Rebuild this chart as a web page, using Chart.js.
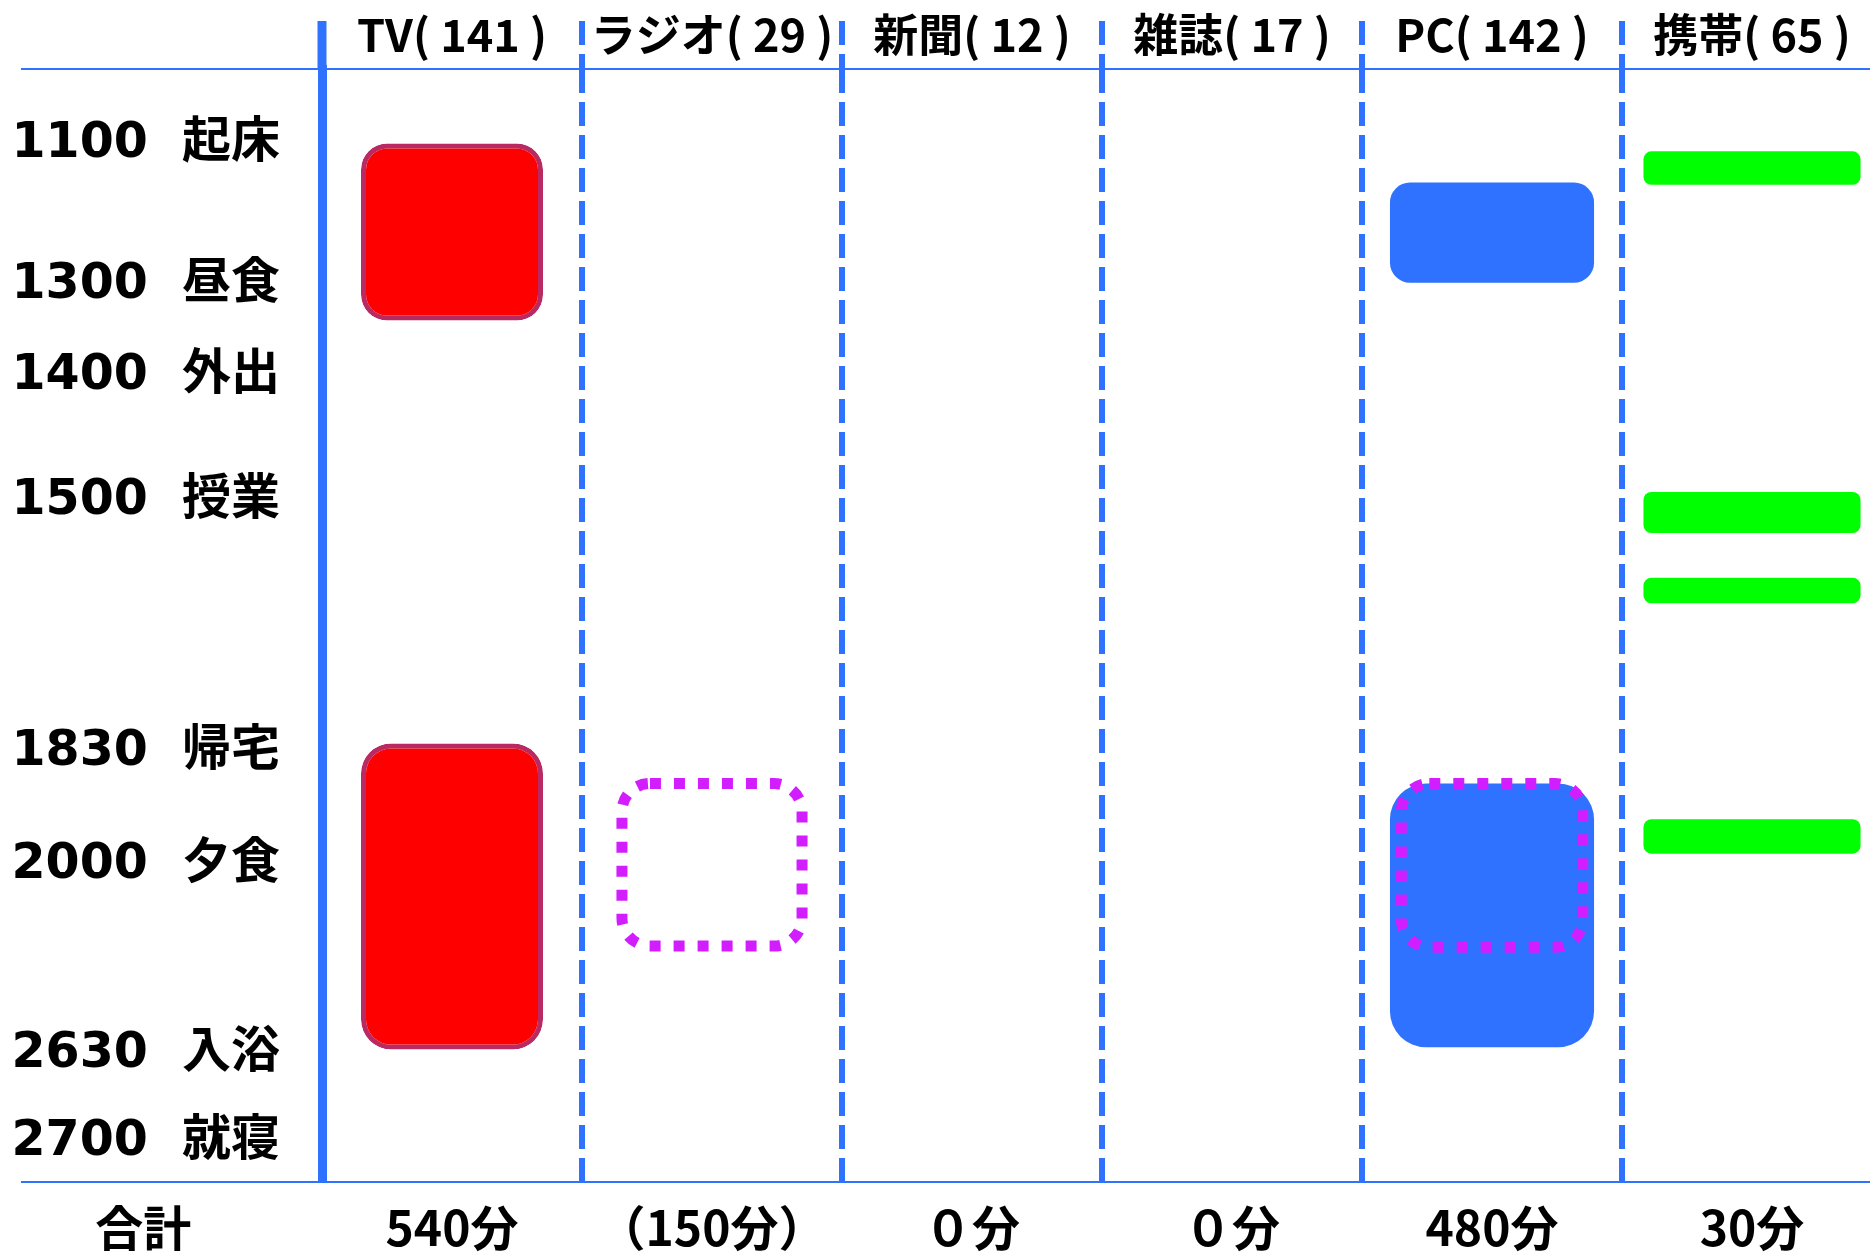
<!DOCTYPE html>
<html>
<head>
<meta charset="utf-8">
<script src="https://cdn.jsdelivr.net/npm/chart.js@4"></script>
<style>
  html, body { margin: 0; padding: 0; background: #fff; overflow: hidden; }
  #wrap { width: 1882px; height: 1252px; }
</style>
</head>
<body>
<div id="wrap"><canvas id="chart" width="1882" height="1252"></canvas></div>
<script>
// columns (media) and their totals
const columns = ['TV( 141 )', 'ラジオ( 29 )', '新聞( 12 )', '雑誌( 17 )', 'PC( 142 )', '携帯( 65 )'];
const totals = ['540分', '（150分）', '０分', '０分', '480分', '30分'];

// rows of the day, position on a 0-100 scale (top line = 0, bottom line = 100)
const rowTimes = ['1100', '1300', '1400', '1500', '1830', '2000', '2630', '2700'];
const rowEvents = ['起床', '昼食', '外出', '授業', '帰宅', '夕食', '入浴', '就寝'];
const rowPositions = [6.8, 19.4, 27.6, 38.8, 61.4, 71.5, 88.5, 96.4];

// usage spans [start, end] on the same scale
const tvSpans = [[6.7, 22.6], [60.6, 88.1]];
const radioSpans = [[63.7, 79.3]];
const pcSpans = [[10.2, 19.2], [64.2, 87.9]];
const pcDottedSpans = [[63.7, 79.4]];
const mobileSpans = [[7.4, 10.4], [38.0, 41.7], [45.7, 48.0], [67.4, 70.5]];

const BLUE = '#2F72FF';
const MAGENTA = '#D21EFF';

function spanDataset(col, span, style) {
    const data = columns.map(() => null);
    data[col] = span;
    return Object.assign({
        data: data,
        grouped: false,
        borderSkipped: false,
        categoryPercentage: 1
    }, style);
}

const datasets = [];
tvSpans.forEach((s, i) => datasets.push(spanDataset(0, s, {
    backgroundColor: '#FF0000', borderColor: '#B92A62', borderWidth: 5,
    borderRadius: i === 0 ? 26 : 30, barPercentage: 0.70
})));
pcSpans.forEach((s, i) => datasets.push(spanDataset(4, s, {
    backgroundColor: BLUE, borderWidth: 0,
    borderRadius: i === 0 ? 20 : 36, barPercentage: 0.785
})));
mobileSpans.forEach(s => datasets.push(spanDataset(5, s, {
    backgroundColor: '#00FF00', borderWidth: 0, borderRadius: 8, barPercentage: 0.835
})));
radioSpans.forEach(s => datasets.push(spanDataset(1, s, {
    backgroundColor: 'transparent', borderColor: MAGENTA, borderWidth: 0,
    barPercentage: 0.735, dotted: true
})));
pcDottedSpans.forEach(s => datasets.push(spanDataset(4, s, {
    backgroundColor: 'transparent', borderColor: MAGENTA, borderWidth: 0,
    barPercentage: 0.74, dotted: true
})));

// dotted outline boxes (bar borders can't be dashed natively)
const dottedBoxes = {
    id: 'dottedBoxes',
    afterDatasetsDraw(chart) {
        const ctx = chart.ctx;
        chart.data.datasets.forEach((ds, di) => {
            if (!ds.dotted) return;
            chart.getDatasetMeta(di).data.forEach((bar, idx) => {
                if (ds.data[idx] == null) return;
                const p = bar.getProps(['x', 'y', 'base', 'width']);
                const lw = 11;
                const left = p.x - p.width / 2 + lw / 2;
                const top = Math.min(p.y, p.base) + lw / 2;
                const w = p.width - lw;
                const h = Math.abs(p.base - p.y) - lw;
                ctx.save();
                ctx.strokeStyle = ds.borderColor;
                ctx.lineWidth = lw;
                ctx.setLineDash([11, 13]);
                ctx.beginPath();
                ctx.roundRect(left, top, w, h, 28);
                ctx.stroke();
                ctx.restore();
            });
        });
    }
};

// "合計" caption on the totals row
const totalCaption = {
    id: 'totalCaption',
    afterDraw(chart) {
        const ctx = chart.ctx;
        const y = chart.scales.y;
        const x2 = chart.scales.x2;
        ctx.save();
        ctx.font = 'bold 48px "Noto Sans CJK JP"';
        ctx.fillStyle = '#000';
        ctx.textAlign = 'center';
        ctx.textBaseline = 'middle';
        ctx.fillText('合計', y.left + (y.right - y.left) * 0.445, x2.top + 46);
        ctx.restore();
    }
};

new Chart(document.getElementById('chart'), {
    type: 'bar',
    data: { labels: columns, datasets: datasets },
    plugins: [dottedBoxes, totalCaption],
    options: {
        responsive: false,
        devicePixelRatio: 1,
        animation: false,
        layout: { padding: 0 },
        plugins: { legend: { display: false }, tooltip: { enabled: false } },
        scales: {
            x: {
                type: 'category',
                position: 'top',
                offset: true,
                grid: {
                    offset: true,
                    color: BLUE,
                    lineWidth: c => c.index === 0 ? 0 : 6,
                    drawTicks: true,
                    tickLength: 48,
                    tickColor: BLUE,
                    tickWidth: c => c.index === 0 ? 9 : 6,
                    tickBorderDash: c => c.index === 0 ? [] : [24, 9]
                },
                border: { display: false, dash: [24, 9] },
                ticks: {
                    color: '#000',
                    padding: -41,
                    autoSkip: false,
                    maxRotation: 0,
                    font: { family: '"Noto Sans CJK JP"', size: 45, weight: 'bold' }
                },
                afterFit: s => { s.height = 69; }
            },
            x2: {
                type: 'category',
                position: 'bottom',
                labels: totals,
                offset: true,
                grid: { display: false, drawTicks: false },
                border: { display: false },
                ticks: {
                    color: '#000',
                    padding: 17,
                    autoSkip: false,
                    maxRotation: 0,
                    font: { family: '"Noto Sans CJK JP"', size: 48, weight: 'bold' }
                },
                afterFit: s => { s.height = 70; }
            },
            y: {
                type: 'linear',
                position: 'left',
                reverse: true,
                min: 0,
                max: 100,
                afterBuildTicks: s => {
                    s.ticks = [0].concat(rowPositions, [100]).map(v => ({ value: v }));
                },
                grid: {
                    color: c => (c.tick && (c.tick.value === 0 || c.tick.value === 100)) ? BLUE : 'transparent',
                    lineWidth: 2,
                    drawTicks: true,
                    tickLength: 301
                },
                border: { display: true, color: BLUE, width: 9 },
                ticks: {
                    color: '#000',
                    padding: -259,
                    autoSkip: false,
                    font: { family: '"DejaVu Sans", "Noto Sans CJK JP"', size: 49, weight: 'bold' },
                    callback: v => {
                        const i = rowPositions.indexOf(v);
                        return i < 0 ? '' : rowTimes[i] + '  ' + rowEvents[i];
                    }
                },
                afterFit: s => { s.width = 322; }
            }
        }
    }
});
</script>
</body>
</html>
